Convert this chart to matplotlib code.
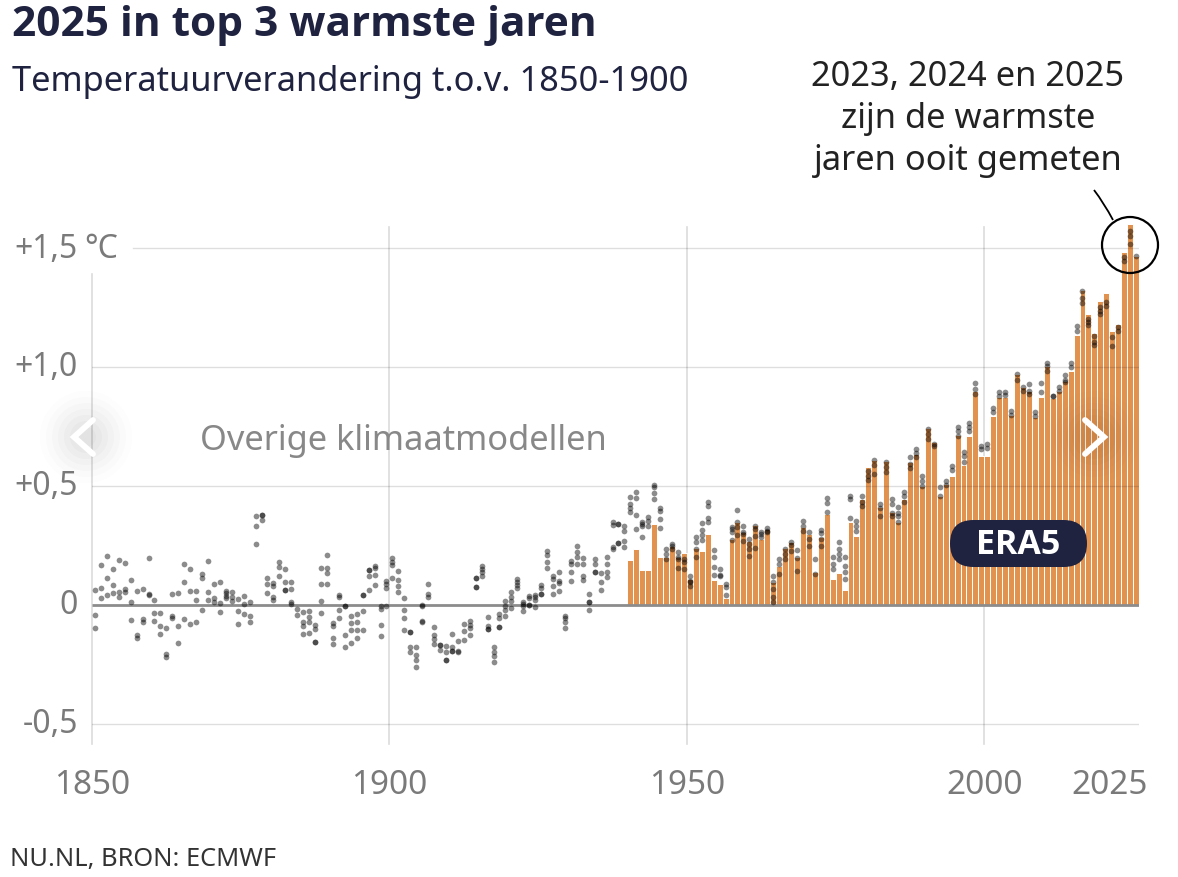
import numpy as np
import matplotlib
matplotlib.use("Agg")
import matplotlib.pyplot as plt
from matplotlib.patches import Circle, FancyBboxPatch, PathPatch
from matplotlib.path import Path
from matplotlib.transforms import IdentityTransform
from matplotlib import font_manager as fm

plt.rcParams['font.family'] = ['Noto Sans', 'DejaVu Sans']

# pick an installed bold face
def bold_family():
    for fam in ['Noto Sans', 'Open Sans', 'Lato', 'Roboto']:
        for f in fm.fontManager.ttflist:
            if f.name == fam and (f.weight in ('bold', 700) or (isinstance(f.weight, int) and f.weight >= 700)):
                return fam
    return 'DejaVu Sans'

BOLD = bold_family()

# ---------------- DATA ----------------
era5_years = list(range(1940, 2026))
era5_values = [
    0.19, 0.235, 0.145, 0.148, 0.34, 0.20, 0.20, 0.25, 0.20, 0.22,          # 1940-49
    0.11, 0.24, 0.225, 0.30, 0.105, 0.088, 0.028, 0.277, 0.347, 0.305,      # 1950-59
    0.27, 0.337, 0.277, 0.32, 0.095, 0.165, 0.24, 0.263, 0.20, 0.326,       # 1960-69
    0.298, 0.137, 0.284, 0.382, 0.11, 0.133, 0.064, 0.35, 0.29, 0.445,      # 1970-79
    0.578, 0.61, 0.41, 0.607, 0.39, 0.347, 0.445, 0.60, 0.634, 0.50,        # 1980-89
    0.744, 0.684, 0.46, 0.508, 0.543, 0.714, 0.588, 0.711, 0.90, 0.627,     # 1990-99
    0.627, 0.793, 0.873, 0.873, 0.80, 0.97, 0.915, 0.90, 0.79, 0.873,       # 2000-09
    1.005, 0.87, 0.90, 0.943, 0.985, 1.134, 1.325, 1.223, 1.143, 1.279,     # 2010-19
    1.31, 1.153, 1.18, 1.485, 1.60, 1.468,                                  # 2020-25
]

# other climate datasets: one list of values per year
models_1850_1874 = [
    [0.064, -0.042, -0.098], [0.168, 0.07, 0.031], [0.204, 0.112, 0.043],
    [0.15, 0.084, 0.05], [0.189, 0.053, 0.035], [0.175, 0.067, 0.053],
    [0.105, 0.011, -0.064], [0.06, -0.126, -0.14], [0.067, -0.059, -0.073],
    [0.199, 0.046, 0.043], [0.021, -0.035, -0.067], [-0.034, -0.087, -0.123],
    [-0.097, -0.206, -0.217], [0.046, -0.048, -0.055], [0.05, -0.087, -0.161],
    [0.171, 0.098, -0.059], [0.15, 0.06, -0.08], [0.06, 0.022, -0.073],
    [0.129, 0.113, -0.02], [0.186, 0.056, 0.022], [0.087, 0.028, 0.014],
    [0.095, 0.008, -0.031], [0.06, 0.049, 0.036, 0.028], [0.056, 0.032, 0.018],
    [0.025, -0.025, -0.08],
]
models_1875_1899 = [
    [0.036, 0.003, -0.038], [0.011, -0.048, -0.07], [0.373, 0.33, 0.256],
    [0.38, 0.38, 0.358], [0.115, 0.088, 0.049], [0.092, 0.078, 0.035, 0.021],
    [0.182, 0.16, 0.12], [0.151, 0.098, 0.064, 0.064], [0.095, 0.067, 0.014, 0.006],
    [-0.017, -0.042], [-0.031, -0.07, -0.087, -0.122], [-0.027, -0.049, -0.07, -0.119],
    [-0.084, -0.101, -0.154, -0.154], [0.154, 0.09, 0.015, -0.034],
    [0.21, 0.157, 0.133, 0.088], [-0.077, -0.09, -0.139, -0.164],
    [0.042, 0.032, -0.02, -0.056], [-0.006, -0.006, -0.126, -0.175],
    [-0.045, -0.076, -0.104, -0.16], [-0.038, -0.07, -0.104, -0.139],
    [0.042, 0.042, -0.024, -0.105], [0.148, 0.148, 0.12, 0.064],
    [0.165, 0.154, 0.126, 0.085], [-0.003, -0.017, -0.084, -0.132],
    [0.1, 0.087, 0.07, -0.003],
]
models_1900_1924 = [
    [0.196, 0.182, 0.168, 0.112], [0.144, 0.106, 0.078, 0.056],
    [0.029, -0.021, -0.053, -0.105], [-0.112, -0.112, -0.178, -0.199],
    [-0.178, -0.21, -0.231, -0.259], [0.0, -0.003, -0.068, -0.072],
    [0.088, 0.046, 0.032], [-0.091, -0.126, -0.143, -0.164],
    [-0.168, -0.168, -0.189], [-0.171, -0.196, -0.231, -0.231],
    [-0.122, -0.178, -0.192, -0.192], [-0.15, -0.192, -0.199],
    [-0.08, -0.108, -0.146], [-0.066, -0.084, -0.098, -0.126],
    [0.112, 0.112, 0.074, 0.074], [0.165, 0.151, 0.137, 0.12],
    [-0.049, -0.087, -0.101, -0.101], [-0.178, -0.199, -0.213, -0.241],
    [-0.038, -0.056, -0.094, -0.094], [0.018, -0.006, -0.02, -0.045],
    [0.053, 0.032, 0.018, -0.014], [0.109, 0.095, 0.084, 0.07],
    [0.014, 0.004, -0.003, -0.024], [0.039, 0.028, 0.0, 0.0],
    [0.042, 0.032, 0.022, -0.01],
]
models_1925_1949 = [
    [0.084, 0.07, 0.046, 0.046], [0.228, 0.21, 0.179, 0.154],
    [0.123, 0.109, 0.081, 0.046], [0.14, 0.102, 0.092, 0.06],
    [-0.045, -0.056, -0.07, -0.098], [0.186, 0.172, 0.137, 0.102],
    [0.249, 0.224, 0.2, 0.172], [0.196, 0.172, 0.123, 0.106],
    [0.046, 0.011, 0.011, -0.021], [0.193, 0.172, 0.14, 0.14],
    [0.134, 0.095, 0.064], [0.203, 0.172, 0.14, 0.116],
    [0.35, 0.336, 0.242, 0.235], [0.34, 0.34, 0.26, 0.26],
    [0.333, 0.312, 0.27, 0.242], [0.455, 0.424, 0.406, 0.389],
    [0.476, 0.45, 0.38, 0.32], [0.35, 0.34, 0.33, 0.287],
    [0.368, 0.354, 0.333], [0.504, 0.494, 0.47, 0.445],
    [0.406, 0.396, 0.361, 0.322], [0.235, 0.214, 0.193],
    [0.256, 0.246, 0.235], [0.224, 0.2, 0.193, 0.154],
    [0.193, 0.179, 0.151],
]
models_1950_1974 = [
    [0.123, 0.102, 0.095, 0.078], [0.284, 0.266, 0.235, 0.2],
    [0.345, 0.317, 0.294, 0.275], [0.431, 0.415, 0.364, 0.35],
    [0.232, 0.2, 0.158, 0.126], [0.151, 0.126, 0.12],
    [0.088, 0.074, 0.042], [0.326, 0.319, 0.305, 0.275],
    [0.4, 0.35, 0.326, 0.294], [0.33, 0.305, 0.298, 0.27],
    [0.277, 0.256, 0.235, 0.204], [0.33, 0.319, 0.291, 0.238],
    [0.308, 0.298, 0.284], [0.322, 0.312, 0.305],
    [0.12, 0.095, 0.067, 0.032, 0.014], [0.193, 0.172, 0.13],
    [0.235, 0.214, 0.193], [0.266, 0.252, 0.228],
    [0.232, 0.196, 0.144], [0.354, 0.33, 0.312],
    [0.308, 0.277, 0.249], [0.193, 0.13],
    [0.317, 0.303, 0.277, 0.246], [0.448, 0.428, 0.389],
    [0.2, 0.172, 0.151],
]
models_1975_1999 = [
    [0.263, 0.235, 0.214, 0.193], [0.2, 0.165, 0.137, 0.109],
    [0.459, 0.445, 0.364], [0.354, 0.333, 0.312],
    [0.457, 0.434, 0.417], [0.564, 0.543, 0.527],
    [0.61, 0.588, 0.55], [0.424, 0.406, 0.375],
    [0.6, 0.578, 0.557], [0.445, 0.424, 0.387, 0.375],
    [0.41, 0.387, 0.373, 0.347], [0.476, 0.459, 0.431],
    [0.62, 0.592, 0.574], [0.655, 0.639, 0.62],
    [0.543, 0.522, 0.501], [0.74, 0.718, 0.697],
    [0.676, 0.667], [0.494, 0.459], [0.522, 0.504], [0.585, 0.569],
    [0.746, 0.732, 0.711], [0.641, 0.625, 0.602],
    [0.763, 0.746, 0.732], [0.933, 0.908, 0.887],
    [0.669, 0.655],
]
models_2000_2025 = [
    [0.676, 0.658], [0.826, 0.81], [0.896, 0.88], [0.894, 0.882],
    [0.817, 0.798], [0.97, 0.947], [0.915, 0.9], [0.929, 0.9, 0.887],
    [0.81, 0.796], [0.931, 0.894], [1.017, 1.003, 0.985], [0.877, 0.877],
    [0.915, 0.9], [0.966, 0.947, 0.936], [1.017, 0.999], [1.174, 1.153],
    [1.321, 1.289, 1.269], [1.202, 1.188, 1.176], [1.129, 1.106, 1.092],
    [1.251, 1.237, 1.223], [1.275, 1.258], [1.125, 1.087], [1.167, 1.153],
    [1.461, 1.447], [1.573, 1.549, 1.517], [1.465],
]

x_ticks = [1850, 1900, 1950, 2000]
x_tick_labels = ['1850', '1900', '1950', '2000']
y_ticks = [1.5, 1.0, 0.5, 0.0, -0.5]
y_tick_labels = ['+1,5', '+1,0', '+0,5', '0', '-0,5']

title = '2025 in top 3 warmste jaren'
subtitle = 'Temperatuurverandering t.o.v. 1850-1900'
note = '2023, 2024 en 2025\nzijn de warmste\njaren ooit gemeten'
footer = 'NU.NL, BRON: ECMWF'

# ---------------- FIGURE ----------------
W, H = 1178, 878
fig = plt.figure(figsize=(W / 100, H / 100), dpi=100)
fig.patch.set_facecolor('white')

def fx(px):
    return px / W

def fy(py):
    return 1 - py / H

x0, x1 = 1850, 2026
y0, y1 = -0.584, 1.70
ax = fig.add_axes([fx(92), fy(745), fx(1139) - fx(92), fy(201.4) - fy(745)])
ax.set_xlim(x0, x1)
ax.set_ylim(y0, y1)
ax.axis('off')

NAVY = '#1f2340'
GRAY_TXT = '#7a7a7a'
ORANGE = '#E1924F'
GRID = '#dcdcdc'

# vertical grid lines
for xv in [1900, 1950, 2000]:
    ax.plot([xv, xv], [y0, 1.588], color=GRID, lw=1.2, zorder=1, clip_on=False)
ax.plot([1850, 1850], [y0, 1.39], color=GRID, lw=1.2, zorder=1, clip_on=False)

# bars
ax.bar(era5_years, era5_values, width=1.0, align='edge', color=ORANGE,
       edgecolor='white', linewidth=0.7, zorder=2)

# horizontal grid lines (on top of bars, translucent)
for yv in [1.0, 0.5, -0.5]:
    ax.plot([1850, 2025.8], [yv, yv], color=(0, 0, 0, 0.13), lw=1.0, zorder=3)
ax.plot([1856.9, 2025.8], [1.5, 1.5], color=(0, 0, 0, 0.13), lw=1.0, zorder=3)
ax.plot([1850, 2026], [0, 0], color='#8c8c8c', lw=2.0, zorder=3, solid_capstyle='butt')

# dots of other datasets
groups = [(1850, models_1850_1874), (1875, models_1875_1899), (1900, models_1900_1924),
          (1925, models_1925_1949), (1950, models_1950_1974), (1975, models_1975_1999),
          (2000, models_2000_2025)]
dx, dy = [], []
for start, grp in groups:
    for i, vals in enumerate(grp):
        for v in vals:
            dx.append(start + i + 0.5)
            dy.append(v)
ax.scatter(dx, dy, s=17, color='black', alpha=0.45, linewidths=0, zorder=4)

# y tick labels
for v, lab in zip(y_ticks, y_tick_labels):
    py = 606 - 238 * v
    fig.text(fx(78), fy(py), lab, ha='right', va='center', fontsize=23, color=GRAY_TXT)
fig.text(fx(84), fy(606 - 238 * 1.5), '°C', ha='left', va='center', fontsize=23, color=GRAY_TXT)

# x tick labels
for v, lab in zip(x_ticks, x_tick_labels):
    px = 92 + (v - 1850) * 5.95
    fig.text(fx(px), fy(786), lab, ha='center', va='center', fontsize=24, color=GRAY_TXT)
fig.text(fx(1110), fy(786), '2025', ha='center', va='center', fontsize=24, color=GRAY_TXT)

# titles
fig.text(fx(12), fy(26), title, ha='left', va='center', fontsize=30.5, fontweight='bold',
         family=[BOLD, 'DejaVu Sans'], color=NAVY)
fig.text(fx(12), fy(82), subtitle, ha='left', va='center', fontsize=24.8, color=NAVY)
fig.text(fx(968), fy(119), note, ha='center', va='center', fontsize=24.8, color='#222222',
         linespacing=1.3)
fig.text(fx(10), fy(860), footer, ha='left', va='center', fontsize=18.3, color='#333333')

# label for other models
fig.text(fx(403), fy(441), 'Overige klimaatmodellen', ha='center', va='center',
         fontsize=24.8, color='#888888')

T = IdentityTransform()

# ERA5 badge
badge = FancyBboxPatch((950, H - 568), 137, 47, boxstyle='round,pad=0,rounding_size=23.5',
                       transform=T, facecolor=NAVY, edgecolor='none', zorder=10)
fig.patches.append(badge)
fig.text(fx(1018.5), fy(545), 'ERA5', ha='center', va='center', fontsize=24.5,
         fontweight='bold', family=[BOLD, 'DejaVu Sans'], color='white', zorder=11)

# highlight circle + leader line
circ = Circle((1130, H - 246), 28, transform=T, facecolor='none', edgecolor='black', lw=1.6, zorder=10)
fig.patches.append(circ)
verts = [(1094, H - 191), (1104, H - 204), (1113, H - 221)]
leader = PathPatch(Path(verts, [Path.MOVETO, Path.CURVE3, Path.CURVE3]), transform=T,
                   facecolor='none', edgecolor='black', lw=1.3, zorder=10)
fig.patches.append(leader)

# navigation arrows with soft glow
def glow(cx, cy, base, scale):
    for r, a in [(46, 0.012), (40, 0.015), (34, 0.02), (28, 0.025), (22, 0.03), (16, 0.03), (10, 0.03)]:
        fig.patches.append(Circle((cx, H - cy), r, transform=T, facecolor=base,
                                  edgecolor='none', alpha=a * scale, zorder=9))

glow(86, 438, '#555555', 1.0)
glow(1094, 438, '#553311', 0.8)
for pts in [[(93, 421), (74, 438), (93, 455)], [(1085, 421), (1104, 438), (1085, 455)]]:
    xs = [p[0] for p in pts]
    ys = [H - p[1] for p in pts]
    line = plt.Line2D(xs, ys, transform=T, color='white', lw=4.2, zorder=12,
                      solid_capstyle='round', solid_joinstyle='miter')
    fig.lines.append(line)

fig.savefig('out.png', dpi=100, facecolor='white')
